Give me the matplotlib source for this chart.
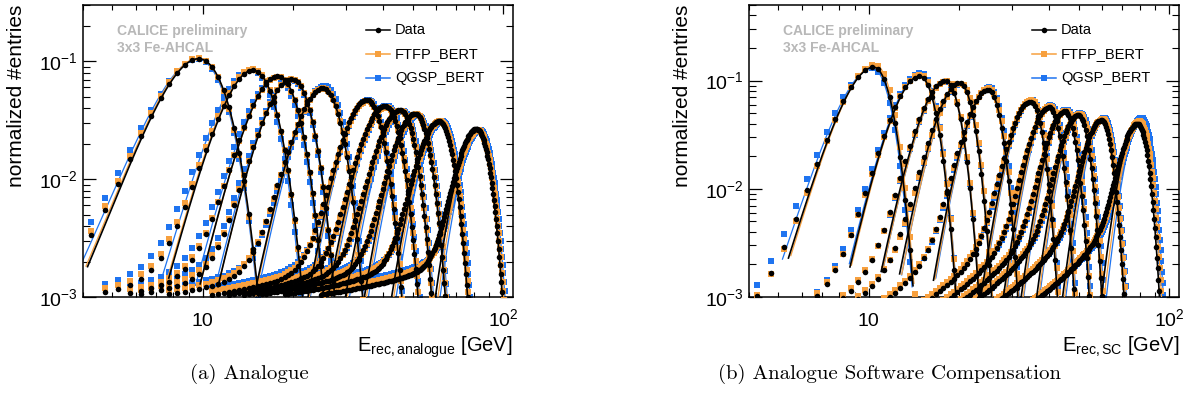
import numpy as np
import matplotlib.pyplot as plt
from matplotlib.ticker import FixedLocator, FixedFormatter, LogLocator, NullFormatter

plt.rcParams['font.family'] = ['Liberation Sans', 'DejaVu Sans']
plt.rcParams['mathtext.fontset'] = 'custom'
plt.rcParams['mathtext.rm'] = 'Liberation Sans'
plt.rcParams['mathtext.it'] = 'Liberation Sans:italic'
plt.rcParams['mathtext.bf'] = 'Liberation Sans:bold'

# beam energies [GeV], one histogram per energy and per series
energies = [10, 15, 18, 20, 25, 35, 40, 45, 50, 60, 80]
bin_w = 0.5
series_names = ['Data', 'FTFP_BERT', 'QGSP_BERT']

# --- (a) analogue reconstruction ---
ana_data_mean = [9.7, 14.7, 17.8, 19.8, 25.1, 35.2, 40.4, 45.3, 50.9, 61.2, 81.6]
ana_ftfp_mean = [9.65, 14.65, 17.8, 19.8, 25.2, 35.4, 40.7, 45.7, 51.4, 61.9, 82.7]
ana_qgsp_mean = [9.6, 14.45, 17.6, 19.7, 25.5, 35.6, 41.0, 46.2, 51.9, 62.7, 83.7]
ana_data_peak = [0.105, 0.084, 0.075, 0.071, 0.059, 0.047, 0.042, 0.0387, 0.036, 0.031, 0.0267]
ana_ftfp_peak = [0.106, 0.086, 0.074, 0.071, 0.059, 0.046, 0.041, 0.038, 0.0355, 0.031, 0.026]
ana_qgsp_peak = [0.104, 0.085, 0.073, 0.070, 0.062, 0.047, 0.042, 0.038, 0.035, 0.031, 0.026]
ana_sig_lo = [1.95, 2.45, 2.8, 3.0, 3.6, 4.6, 5.2, 5.7, 6.1, 7.1, 8.6]
ana_qgsp_sig_lo = [2.0, 2.5, 2.85, 3.05, 3.6, 4.6, 5.2, 5.7, 6.1, 7.1, 8.6]
ana_sig_hi = [1.85, 2.3, 2.55, 2.65, 3.15, 3.9, 4.3, 4.65, 5.0, 5.75, 7.0]
ana_tail = [0.0025, 0.0027, 0.0029]     # low-energy tail level: data, ftfp, qgsp
ana_tail_len = 0.8                      # tail decay length / mean

# --- (b) software compensation ---
sc_data_mean = [10.4, 14.8, 18.0, 20.1, 25.0, 34.6, 39.9, 45.0, 49.9, 59.6, 78.6]
sc_ftfp_mean = [10.5, 14.9, 18.1, 20.3, 25.2, 34.9, 40.3, 45.5, 50.5, 60.3, 80.0]
sc_qgsp_mean = [10.3, 14.9, 18.1, 20.3, 25.3, 35.0, 40.5, 45.7, 50.8, 60.8, 81.2]
sc_data_peak = [0.133, 0.110, 0.100, 0.095, 0.083, 0.064, 0.057, 0.052, 0.048, 0.043, 0.040]
sc_ftfp_peak = [0.140, 0.114, 0.099, 0.094, 0.085, 0.066, 0.058, 0.053, 0.049, 0.044, 0.042]
sc_qgsp_peak = [0.130, 0.118, 0.098, 0.093, 0.087, 0.066, 0.059, 0.054, 0.050, 0.045, 0.045]
sc_sig_lo = [1.75, 2.15, 2.45, 2.6, 3.0, 3.8, 4.15, 4.55, 4.9, 5.6, 7.0]
sc_qgsp_sig_lo = [1.8, 2.2, 2.45, 2.6, 3.0, 3.8, 4.15, 4.55, 4.9, 5.6, 7.0]
sc_sig_hi = [1.2, 1.55, 1.75, 1.85, 2.15, 2.75, 3.0, 3.3, 3.55, 4.1, 5.3]
sc_tail = [0.011, 0.012, 0.012]
sc_tail_len = 0.22

colors = ['black', '#f7a03e', '#1f74f0']
markers = ['o', 's', 's']


def histo(mean, peak, s_lo, s_hi, t_amp, t_len):
    e = np.arange(bin_w / 2, mean + 5 * s_hi, bin_w)
    e = e[e > 0.3 * mean]
    s = np.where(e < mean, s_lo, s_hi)
    g = peak * np.exp(-0.5 * ((e - mean) / s) ** 2)
    d = np.clip(mean - e, 0, None)
    tail = t_amp * np.exp(-d / (t_len * mean)) * (1 - np.exp(-0.5 * (d / s_lo) ** 2))
    return e, g + tail


def fit(mean, peak, s_lo, s_hi):
    e = np.linspace(mean - 2.85 * s_lo, mean + 3.05 * s_hi, 200)
    s = np.where(e < mean, s_lo, s_hi)
    return e, peak * np.exp(-0.5 * ((e - mean) / s) ** 2)


panels = [
    dict(means=[ana_data_mean, ana_ftfp_mean, ana_qgsp_mean],
         peaks=[ana_data_peak, ana_ftfp_peak, ana_qgsp_peak],
         sig_lo=[ana_sig_lo, ana_sig_lo, ana_qgsp_sig_lo], sig_hi=ana_sig_hi,
         tail=ana_tail, tail_len=ana_tail_len, ymax=0.3,
         xlabel=r'E$_{\mathregular{rec,analogue}}$ [GeV]', caption='(a) Analogue'),
    dict(means=[sc_data_mean, sc_ftfp_mean, sc_qgsp_mean],
         peaks=[sc_data_peak, sc_ftfp_peak, sc_qgsp_peak],
         sig_lo=[sc_sig_lo, sc_sig_lo, sc_qgsp_sig_lo], sig_hi=sc_sig_hi,
         tail=sc_tail, tail_len=sc_tail_len, ymax=0.5,
         xlabel=r'E$_{\mathregular{rec,SC}}$ [GeV]', caption='(b) Analogue Software Compensation'),
]

fig = plt.figure(figsize=(11.93, 4.08), dpi=100)
left_px = [83, 749]
caption_x = [249, 890]

for p, cfg in enumerate(panels):
    ax = fig.add_axes([left_px[p] / 1193, 111 / 408, 430 / 1193, 292 / 408])
    # draw QGSP first, data on top
    for k in [2, 1, 0]:
        lw = 1.2 if k == 0 else 0.9
        for i in range(len(energies)):
            m = cfg['means'][k][i]
            h = cfg['peaks'][k][i]
            slo = cfg['sig_lo'][k][i]
            shi = cfg['sig_hi'][i]
            e, y = histo(m, h, slo, shi, cfg['tail'][k], cfg['tail_len'])
            ax.plot(e, y, ls='none', marker=markers[k], ms=4.0, mew=0,
                    color=colors[k], zorder=4 - k)
            fe, fy = fit(m, h, slo, shi)
            ax.plot(fe, fy, color=colors[k], lw=lw, zorder=4.5 - k)

    ax.set_xscale('log')
    ax.set_yscale('log')
    ax.set_xlim(4, 108)
    ax.set_ylim(1e-3, cfg['ymax'])

    ax.xaxis.set_major_locator(FixedLocator([10, 100]))
    ax.xaxis.set_major_formatter(FixedFormatter(['10', r'$10^{2}$']))
    ax.xaxis.set_minor_locator(LogLocator(subs=np.arange(2, 10)))
    ax.xaxis.set_minor_formatter(NullFormatter())
    ax.yaxis.set_major_locator(FixedLocator([1e-3, 1e-2, 1e-1]))
    ax.yaxis.set_major_formatter(FixedFormatter([r'$10^{-3}$', r'$10^{-2}$', r'$10^{-1}$']))
    ax.yaxis.set_minor_locator(LogLocator(subs=np.arange(2, 10)))
    ax.yaxis.set_minor_formatter(NullFormatter())

    ax.tick_params(which='both', direction='in', top=True, right=True, labelsize=14)
    ax.tick_params(axis='y', which='major', length=9.4, width=0.9, pad=3.5)
    ax.tick_params(axis='y', which='minor', length=5, width=0.8)
    ax.tick_params(axis='x', which='major', length=6.5, width=0.9, pad=21)
    ax.tick_params(axis='x', which='minor', length=3.3, width=0.8)
    for t in ax.get_xticklabels():
        t.set_verticalalignment('baseline')
    for sp in ax.spines.values():
        sp.set_linewidth(1.1)

    ax.set_ylabel('normalized #entries', fontsize=15, loc='top')
    ax.yaxis.set_label_coords(-0.1326, 1.0)
    ax.set_xlabel(cfg['xlabel'], fontsize=14.5, loc='right')
    ax.xaxis.set_label_coords(1.0, -0.128)

    ax.text(0.079, 0.911, 'CALICE preliminary', transform=ax.transAxes,
            fontsize=10, fontweight='bold', color='#b8b8b8', va='center')
    ax.text(0.079, 0.853, '3x3 Fe-AHCAL', transform=ax.transAxes,
            fontsize=10, fontweight='bold', color='#b8b8b8', va='center')

    # legend
    for k, name in enumerate(series_names):
        yy = 0.914 - 0.082 * k
        ax.plot([0.659, 0.713], [yy, yy], transform=ax.transAxes, color=colors[k],
                lw=1.1, zorder=6)
        ax.plot([0.686], [yy], transform=ax.transAxes, color=colors[k],
                marker=markers[k], ms=4.0, mew=0, zorder=6)
        ax.text(0.725, yy, name, transform=ax.transAxes, fontsize=10.5, va='center')

    fig.text(caption_x[p] / 1193, 1 - 374 / 408, cfg['caption'], family='cmr10',
             fontsize=15, ha='center', va='center')

fig.savefig('out.png', dpi=100)
